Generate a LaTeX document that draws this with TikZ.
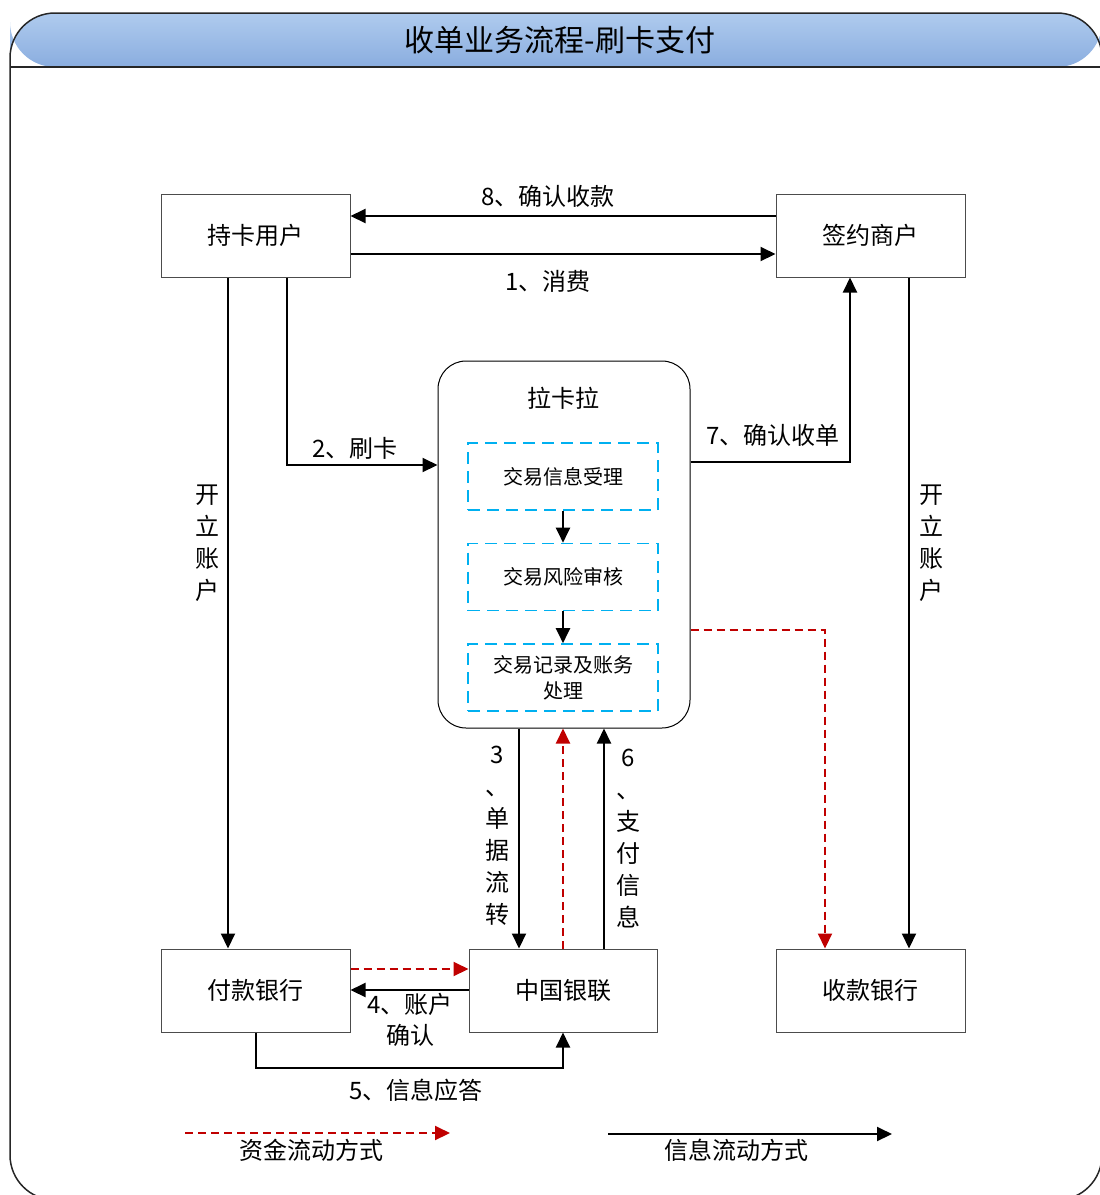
\documentclass[tikz,border=0pt]{standalone}
\usepackage{fontspec}
\setmainfont{Noto Sans CJK SC}
\usetikzlibrary{arrows.meta}
\definecolor{redline}{HTML}{C00000}
\definecolor{blueline}{HTML}{00B0F0}
\definecolor{hdtop}{HTML}{AFCBEE}
\definecolor{hdbot}{HTML}{8AADDF}
\begin{document}
\begin{tikzpicture}[x=1pt,y=-1pt,
  box/.style={draw=black!70, line width=1pt, minimum width=189pt, minimum height=83pt, inner sep=0pt, font=\fontsize{24}{28}\selectfont},
  dbox/.style={draw=blueline, dash pattern=on 12pt off 7pt, line width=1.6pt, minimum width=190pt, minimum height=67pt, inner sep=0pt, font=\fontsize{20}{26}\selectfont, align=center},
  info/.style={line width=2pt, -{Triangle[length=15pt,width=14pt]}},
  fund/.style={draw=redline, line width=2pt, dash pattern=on 8pt off 5pt, -{Triangle[length=15pt,width=14pt,fill=redline]}},
  lbl/.style={font=\fontsize{24}{32}\selectfont, inner sep=0pt, align=center}]
\useasboundingbox (0,0) rectangle (1100,1195);
\clip (0,0) rectangle (1100,1195);
% frame and header
\shade[top color=hdtop, bottom color=hdbot, rounded corners=45pt] (10,67) -- (10,13) -- (1102,13) -- (1102,67) -- cycle;
\draw[line width=1.5pt, black!85, rounded corners=45pt] (10,13) rectangle (1102,1200);
\draw[line width=1.8pt, black!85] (10,67) -- (1102,67);
\node[font=\fontsize{30}{34}\selectfont, inner sep=0pt] (title) at (560,40) {收单业务流程-刷卡支付};
% coordinates
\coordinate (r216) at (0,216);
\coordinate (r254) at (0,254);
\coordinate (r465) at (0,465);
\coordinate (r462) at (0,462);
\coordinate (r630) at (0,630);
\coordinate (r969) at (0,969);
\coordinate (r990) at (0,990);
\coordinate (r1068) at (0,1068);
\coordinate (c228) at (228,0);
\coordinate (c287) at (287,0);
\coordinate (c850) at (850,0);
\coordinate (c909) at (909,0);
\coordinate (c825) at (825,0);
\coordinate (c519) at (519,0);
\coordinate (c604) at (604,0);
% nodes
\node[box] (user) at (255.5,235.5) {持卡用户};
\node[box] (sign) at (870.5,235.5) {签约商户};
\node[draw=black, line width=1pt, rounded corners=28pt, minimum width=252pt, minimum height=367pt, inner sep=0pt] (lkl) at (564,544.5) {};
\node[lbl] (lkltitle) at (563,398) {拉卡拉};
\node[dbox] (d1) at (563,476.5) {交易信息受理};
\node[dbox] (d2) at (563,577) {交易风险审核};
\node[dbox] (d3) at (563,677.5) {交易记录及账务\\处理};
\node[box] (pay) at (255.5,990.5) {付款银行};
\node[box, minimum width=188pt] (cup) at (563,990.5) {中国银联};
\node[box] (recv) at (870.5,990.5) {收款银行};
% connectors
\draw[info] (sign.west |- r216) -- (user.east |- r216);
\node[lbl] (l8) at (548,196) {8、确认收款};
\draw[info] (user.east |- r254) -- (sign.west |- r254);
\node[lbl] (l1) at (548,281) {1、消费};
\draw[info] (user.south -| c228) -- (pay.north -| c228);
\node[lbl] (lopen1) at (207,543) {开\\立\\账\\户};
\draw[info] (user.south -| c287) |- (lkl.west |- r465);
\node[lbl] (l2) at (355,448) {2、刷卡};
\draw[info] (lkl.east |- r462) -| (sign.south -| c850);
\node[lbl] (l7) at (773,435) {7、确认收单};
\draw[info] (sign.south -| c909) -- (recv.north -| c909);
\node[lbl] (lopen2) at (931,543) {开\\立\\账\\户};
\draw[fund] (lkl.east |- r630) -| (recv.north -| c825);
\draw[info] (d1.south) -- (d2.north);
\draw[info] (d2.south) -- (d3.north);
\draw[info] (lkl.south -| c519) -- (cup.north -| c519);
\node[lbl] (l3) at (497,836) {3\\、\\单\\据\\流\\转};
\draw[fund] (cup.north) -- (lkl.south -| cup.north);
\draw[info] (cup.north -| c604) -- (lkl.south -| c604);
\node[lbl] (l6) at (628,839) {6\\、\\支\\付\\信\\息};
\draw[fund] (pay.east |- r969) -- (cup.west |- r969);
\draw[info] (cup.west |- r990) -- (pay.east |- r990);
\node[lbl, font=\fontsize{24}{31}\selectfont] (l4) at (410,1020) {4、账户\\确认};
\draw[info] (pay.south) |- (cup.south |- r1068) -- (cup.south);
\node[lbl] (l5) at (416,1090) {5、信息应答};
% legend
\coordinate (lga) at (185,1133);
\coordinate (lgb) at (450,1133);
\coordinate (lgc) at (608,1134);
\coordinate (lgd) at (892,1134);
\draw[fund] (lga) -- (lgb);
\node[lbl] (lg1) at (311,1150) {资金流动方式};
\draw[info] (lgc) -- (lgd);
\node[lbl] (lg2) at (736,1150) {信息流动方式};
\end{tikzpicture}
\end{document}
